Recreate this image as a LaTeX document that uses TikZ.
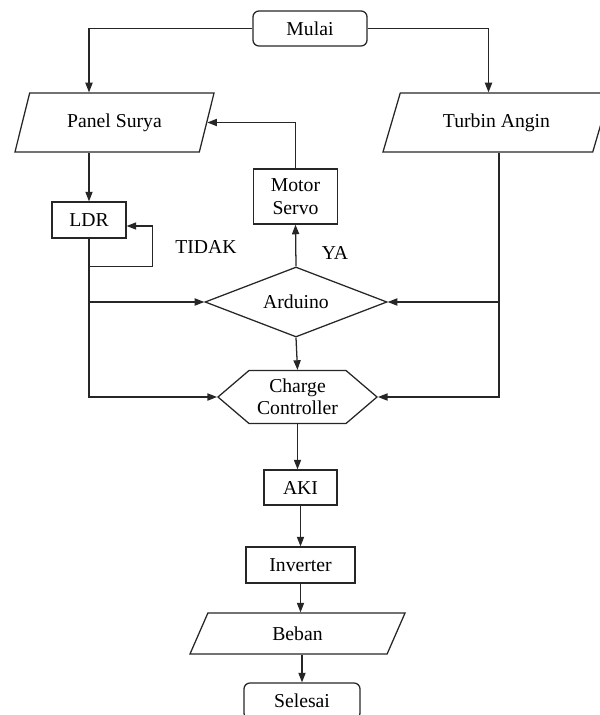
\documentclass[tikz,border=0pt]{standalone}
\usepackage{fontspec}
\setmainfont{Liberation Serif}
\usetikzlibrary{arrows.meta,calc,shapes.geometric,shapes.symbols}

\begin{document}
\begin{tikzpicture}[x=0.025cm, y=-0.025cm, >={Triangle[length=2.4mm,width=1.8mm]},
    line width=0.9pt, draw=black!85, font=\fontsize{14}{16}\selectfont,
    base/.style={draw=black!85, line width=0.9pt, inner sep=0pt, align=center},
    terminal/.style={base, rectangle, rounded corners=0.15cm},
    process/.style={base, rectangle},
    io/.style 2 args={base, trapezium, trapezium stretches body, trapezium left angle=#1, trapezium right angle=#2},
    decision/.style={base, diamond, aspect=2.6},
    prep/.style={base, signal, signal to=west and east, signal pointer angle=81}]
    \useasboundingbox (0,0) rectangle (599,715);

    % Nodes
    \node[terminal, minimum width=2.85cm, minimum height=0.875cm] (mulai) at (310,28.5) {Mulai};
    \node[io={50.6}{129.4}, minimum width=4.975cm, minimum height=1.475cm] (panel) at (114.5,122.5) {Panel Surya};
    \node[io={46}{134}, minimum width=5.675cm, minimum height=1.475cm] (turbin) at (496.5,122.5) {Turbin Angin};
    \node[process, minimum width=1.85cm, minimum height=0.9cm] (ldr) at (89,220) {LDR};
    \node[process, minimum width=2.1cm, minimum height=1.375cm] (servo) at (295.5,196.5) {Motor\\Servo};
    \node[decision, minimum width=4.55cm, minimum height=1.75cm] (arduino) at (296,302) {Arduino};
    \node[prep, minimum width=3.975cm, minimum height=1.325cm] (cc) at (297.5,397) {Charge\\Controller};
    \node[process, minimum width=1.825cm, minimum height=0.875cm] (aki) at (300.5,487.5) {AKI};
    \node[process, minimum width=2.725cm, minimum height=0.9cm] (inverter) at (300.5,565) {Inverter};
    \node[io={37.7}{142.3}, minimum width=5.375cm, minimum height=1.025cm] (beban) at (297.5,633.5) {Beban};
    \node[terminal, minimum width=2.9cm, minimum height=0.9cm] (selesai) at (302,701) {Selesai};
    \node (tidak) at (206,247) {TIDAK};
    \node (ya) at (335,253) {YA};

    % Arrows
    \draw[->] (mulai.west) -| (panel.north -| ldr.north);
    \draw[->] (mulai.east) -| ($(turbin.north)+(-8,0)$);
    \draw[->] (panel.south -| ldr.north) -- (ldr.north);
    \draw[->] ($(ldr.south)+(0,28)$) -| ($(ldr.east)+(26,6)$) -- ($(ldr.east)+(0,6)$);
    \draw[->] (ldr.south) |- (cc.west);
    \draw[->] (ldr.south |- arduino.west) -- (arduino.west);
    \coordinate (rtrunk) at ($(turbin.south)+(2.5,0)$);
    \draw[->] (rtrunk) |- (cc.east);
    \draw[->] (rtrunk |- arduino.east) -- (arduino.east);
    \draw[->] (arduino.north) -- (servo.south);
    \draw[->] (servo.north) |- (panel.east);
    \draw[->] (arduino.south) -- (cc.north);
    \draw[->] (cc.south) -- (cc.south |- aki.north);
    \draw[->] (aki.south) -- (inverter.north);
    \draw[->] (inverter.south) -- (inverter.south |- beban.north);
    \draw[->] (beban.south -| selesai.north) -- (selesai.north);
\end{tikzpicture}
\end{document}
